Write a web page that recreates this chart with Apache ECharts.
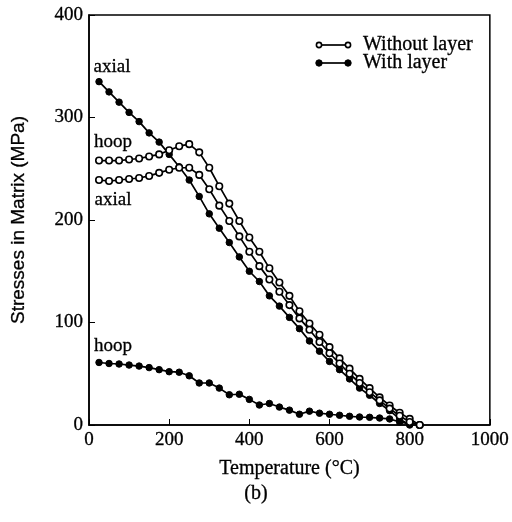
<!DOCTYPE html>
<html>
<head>
<meta charset="utf-8">
<script src="https://cdn.jsdelivr.net/npm/echarts@6/dist/echarts.min.js"></script>
<style>html,body{margin:0;padding:0;background:#fff;}#c{width:512px;height:522px;}</style>
</head>
<body>
<div id="c"></div>
<script>
// Temperatures (°C)
var tempsOpen = [25,50,75,100,125,150,175,200,225,250,275,300,325,350,375,400,425,450,475,500,525,550,575,600,625,650,675,700,725,750,775,800,825];
var tempsFilled = [25,50,75,100,125,150,175,200,225,250,275,300,325,350,375,400,425,450,475,500,525,550,575,600,625,650,675,700,725,750,775,800];
// Without layer (open circles)
var openHoop  = [258,258,258,259,260,262,264,268,272,274,266,251,233,216,199,183,169,153,139,126,111,99,88,76,65,55,45,36,27,19,12,6,0];
var openAxial = [239,238,239,240,241,243,246,249,251,251,244,230,214,199,184,169,155,142,130,117,104,93,81,70,60,50,41,32,24,16,9,3,0];
// With layer (filled circles)
var filledAxial = [335,325,315,305,296,285,276,264,252,239,223,206,192,178,164,150,140,126,116,105,94,82,72,62,54,45,36,29,21,14,6,0];
var filledHoop  = [61,60,59.5,58.5,57.5,56,54,52,51.5,48,41,41,36,29.5,30,25,19.5,21,17.5,14.5,10.5,13.5,11.5,10.5,9.5,8.5,7.8,7.5,6.8,5.9,3,1];
var xTicks = [0,200,400,600,800,1000];
var yTicks = [0,100,200,300,400];
var legendNames = ['Without layer','With layer'];

function pairs(xs, ys, firstLabel) {
  return xs.map(function (x, i) {
    var item = { value: [x, ys[i]] };
    if (i === 0 && firstLabel) item.label = firstLabel;
    return item;
  });
}
var serif = 'Liberation Serif, Times New Roman, serif';
var thick = { textBorderColor: '#000', textBorderWidth: 0.3 };
function lbl(text, pos, off) {
  return Object.assign({ show: true, formatter: text, position: pos, offset: off, color: '#000', fontFamily: serif, fontSize: 19 }, thick);
}
var openStyle = { color: '#fff', borderColor: '#000', borderWidth: 1.6 };
var filledStyle = { color: '#000', borderColor: '#000', borderWidth: 1 };
function mk(name, data, style) {
  return {
    name: name, type: 'line', data: data, symbol: 'circle', symbolSize: 6.5,
    showSymbol: true, itemStyle: style, lineStyle: { color: '#000', width: 1.7 },
    animation: false, z: style === openStyle ? 3 : 2
  };
}

var chart = echarts.init(document.getElementById('c'));
chart.setOption({
  backgroundColor: '#fff',
  animation: false,
  grid: { left: 89, top: 15, width: 403, height: 410, show: true, borderColor: '#000', borderWidth: 1.5, backgroundColor: 'transparent' },
  xAxis: {
    type: 'value', min: 0, max: 1000, interval: 200,
    name: 'Temperature (°C)', nameLocation: 'middle', nameGap: 34,
    nameTextStyle: Object.assign({ fontFamily: serif, fontSize: 20, color: '#000' }, thick),
    axisLine: { show: true, lineStyle: { color: '#000', width: 1.5 } },
    axisTick: { show: true, inside: true, length: 6, lineStyle: { color: '#000' } },
    axisLabel: Object.assign({ fontFamily: serif, fontSize: 19, color: '#000', margin: 6,
      formatter: function (v) { return xTicks.indexOf(v) >= 0 ? String(v) : ''; } }, thick),
    splitLine: { show: false }
  },
  yAxis: {
    type: 'value', min: 0, max: 400, interval: 100,
    name: 'Stresses in Matrix (MPa)', nameLocation: 'middle', nameGap: 61, nameRotate: 90,
    nameTextStyle: Object.assign({ fontFamily: 'Liberation Sans, Arial, sans-serif', fontSize: 19, color: '#000' }, thick),
    axisLine: { show: true, lineStyle: { color: '#000', width: 1.5 } },
    axisTick: { show: true, inside: true, length: 6, lineStyle: { color: '#000' } },
    axisLabel: Object.assign({ fontFamily: serif, fontSize: 19, color: '#000', margin: 6,
      formatter: function (v) { return yTicks.indexOf(v) >= 0 ? String(v) : ''; } }, thick),
    splitLine: { show: false }
  },
  series: [
    mk(legendNames[0], pairs(tempsOpen, openHoop, lbl('hoop', 'top', [14, 0])), openStyle),
    mk(legendNames[0], pairs(tempsOpen, openAxial, lbl('axial', 'bottom', [14, 1])), openStyle),
    mk(legendNames[1], pairs(tempsFilled, filledAxial, lbl('axial', 'top', [13, 4])), filledStyle),
    mk(legendNames[1], pairs(tempsFilled, filledHoop, lbl('hoop', 'top', [14, 2])), filledStyle)
  ],
  graphic: [
    { type: 'line', shape: { x1: 319, y1: 45, x2: 348, y2: 45 }, style: { stroke: '#000', lineWidth: 1.7 } },
    { type: 'circle', shape: { cx: 319, cy: 45, r: 2.6 }, style: { fill: '#fff', stroke: '#000', lineWidth: 1.6 } },
    { type: 'circle', shape: { cx: 348, cy: 45, r: 2.6 }, style: { fill: '#fff', stroke: '#000', lineWidth: 1.6 } },
    { type: 'text', x: 363, y: 45, style: { text: legendNames[0], font: '20px Liberation Serif', fill: '#000', stroke: '#000', lineWidth: 0.3, verticalAlign: 'middle' } },
    { type: 'line', shape: { x1: 319, y1: 63, x2: 348, y2: 63 }, style: { stroke: '#000', lineWidth: 1.7 } },
    { type: 'circle', shape: { cx: 319, cy: 63, r: 3.2 }, style: { fill: '#000', stroke: '#000', lineWidth: 1 } },
    { type: 'circle', shape: { cx: 348, cy: 63, r: 3.2 }, style: { fill: '#000', stroke: '#000', lineWidth: 1 } },
    { type: 'text', x: 363, y: 63, style: { text: legendNames[1], font: '20px Liberation Serif', fill: '#000', stroke: '#000', lineWidth: 0.3, verticalAlign: 'middle' } },
    { type: 'text', x: 256, y: 494, style: { text: '(b)', font: '20px Liberation Serif', fill: '#000', stroke: '#000', lineWidth: 0.3, align: 'center', verticalAlign: 'middle' } }
  ]
});
</script>
</body>
</html>
